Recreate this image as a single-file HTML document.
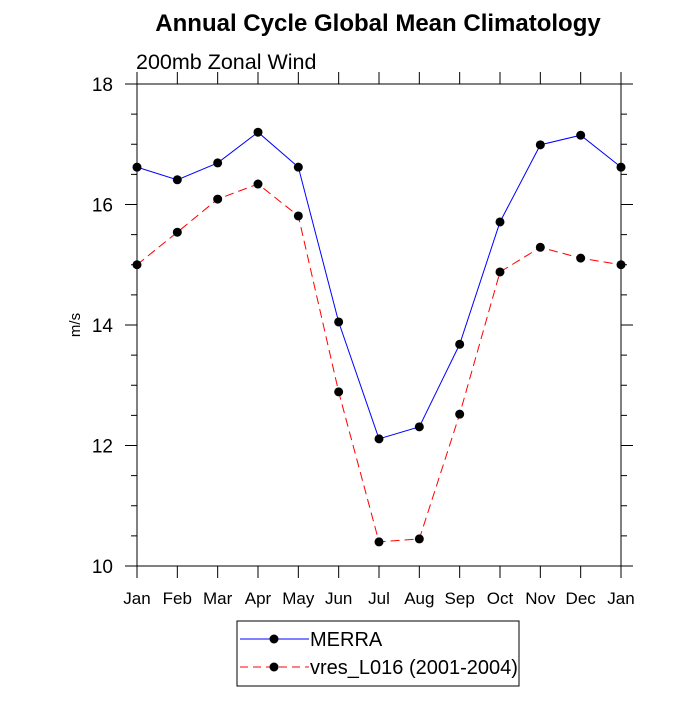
<!DOCTYPE html>
<html><head><meta charset="utf-8"><style>
body{margin:0;background:#fff;}
svg{font-family:"Liberation Sans",sans-serif;}
</style></head><body>
<svg id="chart" width="700" height="700" viewBox="0 0 700 700">
<text x="378" y="31" text-anchor="middle" font-size="24" font-weight="bold">Annual Cycle Global Mean Climatology</text>
<text x="136" y="69" font-size="21.5">200mb Zonal Wind</text>
<text transform="translate(80,325) rotate(-90)" text-anchor="middle" font-size="15">m/s</text>
<g id="axes"></g>
<g id="series"></g>
<g>
<rect x="237" y="621" width="282" height="65" fill="#fff" stroke="#000" stroke-width="1"/>
<g>
<line x1="240" y1="639" x2="309" y2="639" stroke="#00f" stroke-width="1"/>
<circle cx="274" cy="639" r="4.5" fill="#000"/>
<text x="310" y="646" font-size="20">MERRA</text></g>
<g>
<line x1="240" y1="667" x2="309" y2="667" stroke="#f00" stroke-width="1" stroke-dasharray="8,5"/>
<circle cx="274" cy="667" r="4.5" fill="#000"/>
<text x="310" y="674" font-size="20">vres_L016 (2001-2004)</text></g>
</g>
</svg>
<script>
const months=["Jan","Feb","Mar","Apr","May","Jun","Jul","Aug","Sep","Oct","Nov","Dec","Jan"];
const merra=[16.62,16.41,16.69,17.20,16.62,14.05,12.11,12.31,13.68,15.71,16.99,17.15,16.62];
const vres=[15.0,15.54,16.09,16.34,15.81,12.89,10.40,10.45,12.52,14.88,15.29,15.11,15.0];
const yTicks=[10,12,14,16,18];
const L=137,R=621,T=84,B=566,yMin=10,yMax=18;
const xs=i=>L+i*(R-L)/(months.length-1);
const ys=v=>B-(v-yMin)/(yMax-yMin)*(B-T);
const NS="http://www.w3.org/2000/svg";
function mk(tag,attrs,parent){const e=document.createElementNS(NS,tag);for(const k in attrs)e.setAttribute(k,attrs[k]);parent.appendChild(e);return e;}
const ax=document.getElementById('axes');
const frame=mk('rect',{x:L,y:T,width:R-L,height:B-T,fill:'none',stroke:'#000','stroke-width':1},ax);


for(let v=yMin;v<=yMax+1e-9;v+=0.5){
  const major=Math.abs(v%2)<1e-9, len=major?12:6, y=ys(v);
  mk('line',{x1:L-len,y1:y,x2:L,y2:y,stroke:'#000'},ax);
  mk('line',{x1:R,y1:y,x2:R+len,y2:y,stroke:'#000'},ax);
}
yTicks.forEach(v=>{
  const t=mk('text',{x:L-24,y:ys(v)+7,'text-anchor':'end','font-size':19},ax);
  t.textContent=v;
  
  
});
months.forEach((m,i)=>{
  const x=xs(i);
  mk('line',{x1:x,y1:B,x2:x,y2:B+12,stroke:'#000'},ax);
  mk('line',{x1:x,y1:T-12,x2:x,y2:T,stroke:'#000'},ax);
  const t=mk('text',{x:x,y:B+38,'text-anchor':'middle','font-size':17},ax);
  t.textContent=m;
  
  
});
const sg=document.getElementById('series');
function series(vals,color,dash,name){
  const g=mk('g',{},sg);
  
  
  const a={points:vals.map((v,i)=>xs(i)+','+ys(v)).join(' '),fill:'none',stroke:color,'stroke-width':1};
  if(dash)a['stroke-dasharray']=dash;
  mk('polyline',a,g);
  vals.forEach((v,i)=>{
    const c=mk('circle',{cx:xs(i),cy:ys(v),r:4.5,fill:'#000'},g);
    
    
  });
}
series(merra,'#00f',null,'series-merra');
series(vres,'#f00','9,5','series-vres');
</script>
</body></html>
